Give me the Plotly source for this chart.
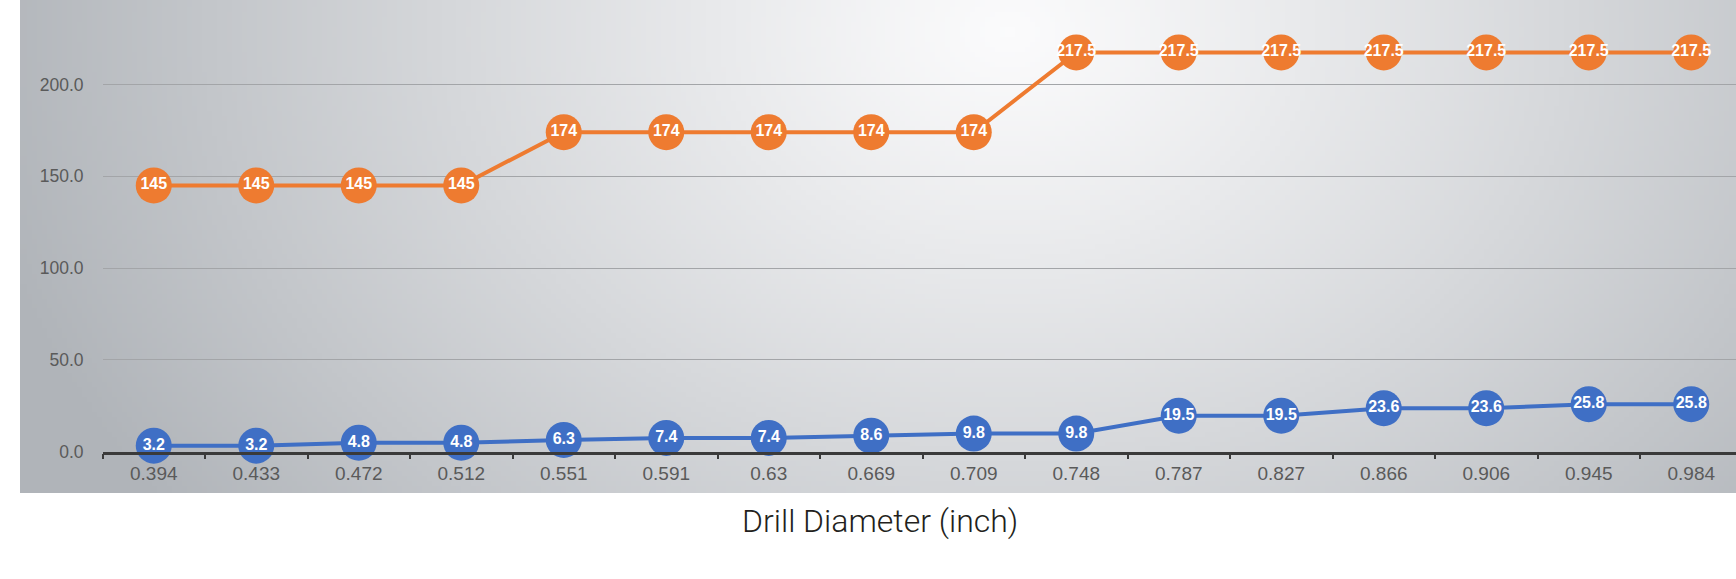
import base64
import struct
import zlib

import numpy as np
import plotly.graph_objects as go

# Drill diameters (inch) and the two measured series
diameters = ["0.394", "0.433", "0.472", "0.512", "0.551", "0.591", "0.63", "0.669",
             "0.709", "0.748", "0.787", "0.827", "0.866", "0.906", "0.945", "0.984"]
upper_values = [145, 145, 145, 145, 174, 174, 174, 174, 174,
                217.5, 217.5, 217.5, 217.5, 217.5, 217.5, 217.5]
lower_values = [3.2, 3.2, 4.8, 4.8, 6.3, 7.4, 7.4, 8.6, 9.8, 9.8,
                19.5, 19.5, 23.6, 23.6, 25.8, 25.8]
y_ticks = [0, 50, 100, 150, 200]

ORANGE = "#ee7b30"
BLUE = "#3f6fc5"

W, H = 1736, 579
ML, MR, MT, MB = 20, 0, 0, 86
PANEL_W, PANEL_H = W - ML - MR, H - MT - MB


def panel_background(w=344, h=100):
    """Soft radial shading for the chart panel, returned as a PNG data URI."""
    xs = np.linspace(0, PANEL_W, w)
    ys = np.linspace(0, PANEL_H, h)
    gx, gy = np.meshgrid(xs, ys)
    cx, cy = 990.0, 30.0
    t = np.sqrt(((gx - cx) / 1050.0) ** 2 + ((gy - cy) / 820.0) ** 2)
    t = np.clip(t, 0, 1) ** 1.1
    light = np.array([251, 251, 252], dtype=float)
    dark = np.array([176, 180, 185], dtype=float)
    img = (light[None, None, :] * (1 - t[..., None]) + dark[None, None, :] * t[..., None])
    img = img.round().astype(np.uint8)
    raw = b"".join(b"\x00" + row.tobytes() for row in img)

    def chunk(tag, data):
        return (struct.pack(">I", len(data)) + tag + data
                + struct.pack(">I", zlib.crc32(tag + data) & 0xFFFFFFFF))

    png = (b"\x89PNG\r\n\x1a\n"
           + chunk(b"IHDR", struct.pack(">IIBBBBB", w, h, 8, 2, 0, 0, 0))
           + chunk(b"IDAT", zlib.compress(raw, 9))
           + chunk(b"IEND", b""))
    return "data:image/png;base64," + base64.b64encode(png).decode()


label_font = dict(family="Liberation Sans, Arial, sans-serif", size=16, color="white",
                  weight="bold")

fig = go.Figure()
for values, color in ((upper_values, ORANGE), (lower_values, BLUE)):
    fig.add_trace(go.Scatter(
        x=diameters,
        y=values,
        mode="lines+markers+text",
        line=dict(color=color, width=4),
        marker=dict(color=color, size=36, line=dict(width=0)),
        text=[f"{v:g}" for v in values],
        textposition="middle center",
        textfont=label_font,
        cliponaxis=False,
        hoverinfo="x+y",
    ))

# Axis placement within the shaded panel
x_left_px, cat_step = 102.5, 102.5
x_dom0 = (x_left_px - ML) / PANEL_W
x_range_end = -0.5 + (W - x_left_px) / cat_step
zero_px, px_per_unit = 451.5, 1.835
y_dom0 = (PANEL_H - zero_px) / PANEL_H
y_top = zero_px / px_per_unit

fig.update_layout(
    width=W, height=H,
    margin=dict(l=ML, r=MR, t=MT, b=MB),
    paper_bgcolor="white",
    plot_bgcolor="rgba(0,0,0,0)",
    showlegend=False,
    images=[dict(
        source=panel_background(),
        xref="paper", yref="paper",
        x=0, y=1, sizex=1, sizey=1,
        xanchor="left", yanchor="top",
        sizing="stretch", layer="below",
    )],
    xaxis=dict(
        type="category",
        domain=[x_dom0, 1],
        range=[-0.5, x_range_end],
        showgrid=False,
        showline=True, linecolor="#3a3a3a", linewidth=2.5,
        ticks="outside", tickson="boundaries", ticklen=5, tickwidth=2,
        tickcolor="#3a3a3a",
        ticklabelstandoff=3,
        tickfont=dict(family="Liberation Sans, Arial, sans-serif", size=19, color="#5a5a5a"),
        zeroline=False,
    ),
    yaxis=dict(
        domain=[y_dom0, 1],
        range=[0, y_top],
        tickvals=y_ticks,
        tickformat=".1f",
        showgrid=True, gridcolor="#a3a5a8", gridwidth=1.3,
        showline=False, zeroline=False, ticks="",
        ticklabelstandoff=18,
        tickfont=dict(family="Liberation Sans, Arial, sans-serif", size=17.5, color="#5a5a5a"),
    ),
    annotations=[dict(
        text="Drill Diameter (inch)",
        xref="paper", yref="paper",
        x=(880 - ML) / PANEL_W, y=-(521 - PANEL_H) / PANEL_H,
        xanchor="center", yanchor="middle",
        showarrow=False,
        font=dict(family="Roboto, Liberation Sans, sans-serif", size=32, color="#231f20", weight=300),
    )],
)

fig.write_html("out.html")
